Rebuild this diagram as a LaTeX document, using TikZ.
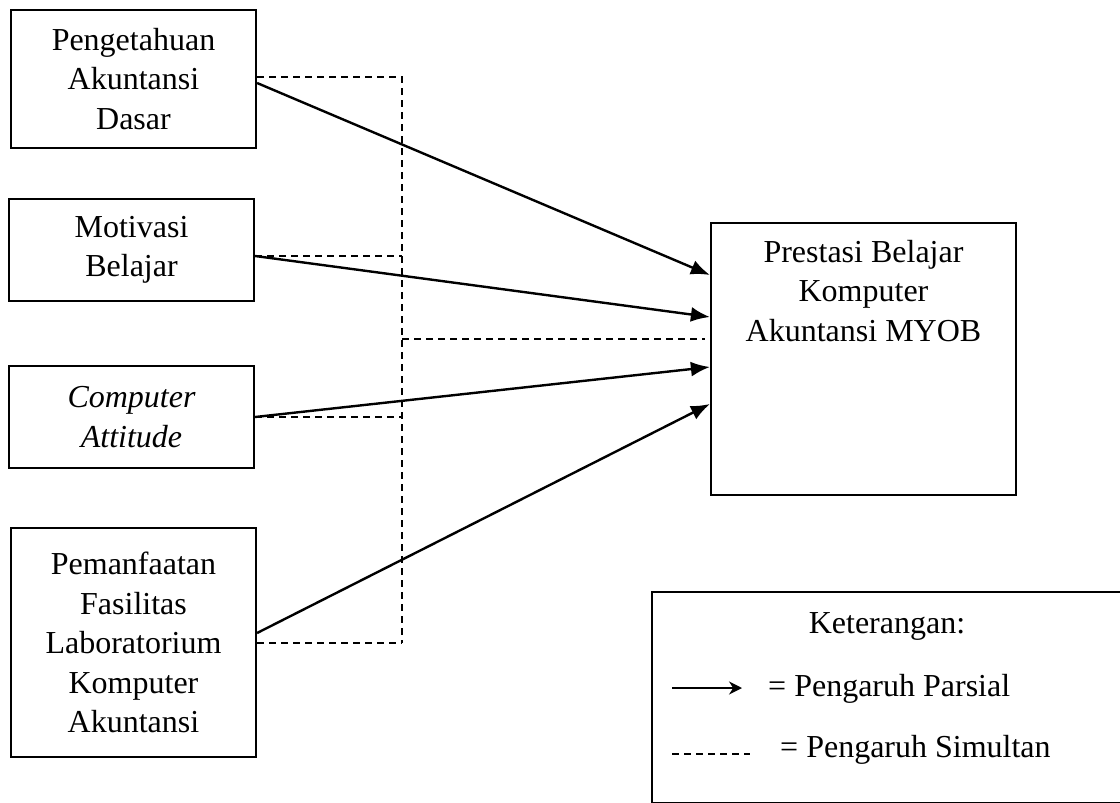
\documentclass[tikz,border=0pt]{standalone}
\usepackage{fontspec}
\setmainfont{Liberation Serif}
\usetikzlibrary{arrows.meta,calc}
\begin{document}
\begin{tikzpicture}[x=1pt,y=-1pt,
  box/.style={draw,line width=2.2pt,inner sep=0pt,align=center,
    font=\fontsize{32}{39.5}\selectfont},
  txt/.style={inner sep=0pt,align=center,font=\fontsize{32}{39.5}\selectfont},
  parsial/.style={line width=2.4pt,-{Latex[length=19pt,width=15pt]}},
  simultan/.style={line width=2pt,dash pattern=on 7pt off 5pt}]
\useasboundingbox (0,0) rectangle (1120,803);
% variable boxes
\node[box,minimum width=245pt,minimum height=138pt] (b1) at (133.5,79) {Pengetahuan\\Akuntansi\\Dasar};
\node[box,minimum width=245pt,minimum height=102pt] (b2) at (131.5,250) {Motivasi\\Belajar};
\node[box,minimum width=245pt,minimum height=102pt] (b3) at (131.5,417) {\itshape Computer\\\itshape Attitude};
\node[box,minimum width=245pt,minimum height=229pt] (b4) at (133.5,642.5) {Pemanfaatan\\Fasilitas\\Laboratorium\\Komputer\\Akuntansi};
% target box
\node[draw,line width=2.2pt,minimum width=305pt,minimum height=272pt,inner sep=0pt] (tgt) at (863.5,359) {};
\node[txt,anchor=north] (tgtlabel) at ([yshift=-18pt]tgt.north) {Prestasi Belajar\\Komputer\\Akuntansi MYOB};
% dashed bus
\coordinate (bus) at (402,0);
\coordinate (p1) at ([yshift=2pt]b1.east);
\coordinate (p2) at ([yshift=-6pt]b2.east);
\coordinate (p3) at (b3.east);
\coordinate (p4) at (b4.east);
\coordinate (q) at ([yshift=20pt]tgt.west);
\draw[simultan] (p1) -| (p4 -| bus);
\draw[simultan] (p2) -- (p2 -| bus);
\draw[simultan] (p3) -- (p3 -| bus);
\draw[simultan] (p4) -- (p4 -| bus);
\draw[simultan] (q -| bus) -- ([xshift=-5pt]q);
% partial arrows
\draw[parsial] ([yshift=-4pt]b1.east) -- ([yshift=84pt]tgt.west);
\draw[parsial] ([yshift=-6pt]b2.east) -- ([yshift=42pt]tgt.west);
\draw[parsial] (b3.east) -- ([yshift=-8pt]tgt.west);
\draw[parsial] ([yshift=9.5pt]b4.east) -- ([yshift=-45pt]tgt.west);
% legend
\node[draw,line width=2.2pt,anchor=north west,minimum width=480pt,minimum height=211pt,inner sep=0pt] (lg) at (651,591) {};
\node[txt,anchor=base] (lgtitle) at (887,633) {Keterangan:};
\coordinate (la1) at (672,688);
\coordinate (la2) at (742,688);
\draw[line width=1.8pt,-{Stealth[length=13pt,width=13pt]}] (la1) -- (la2);
\node[txt,anchor=base west] (lgp) at (768,696) {= Pengaruh Parsial};
\coordinate (ld1) at (672,754);
\coordinate (ld2) at (750,754);
\draw[line width=2pt,dash pattern=on 7pt off 5pt] (ld1) -- (ld2);
\node[txt,anchor=base west] (lgs) at (780,757) {= Pengaruh Simultan};
\end{tikzpicture}
\end{document}
